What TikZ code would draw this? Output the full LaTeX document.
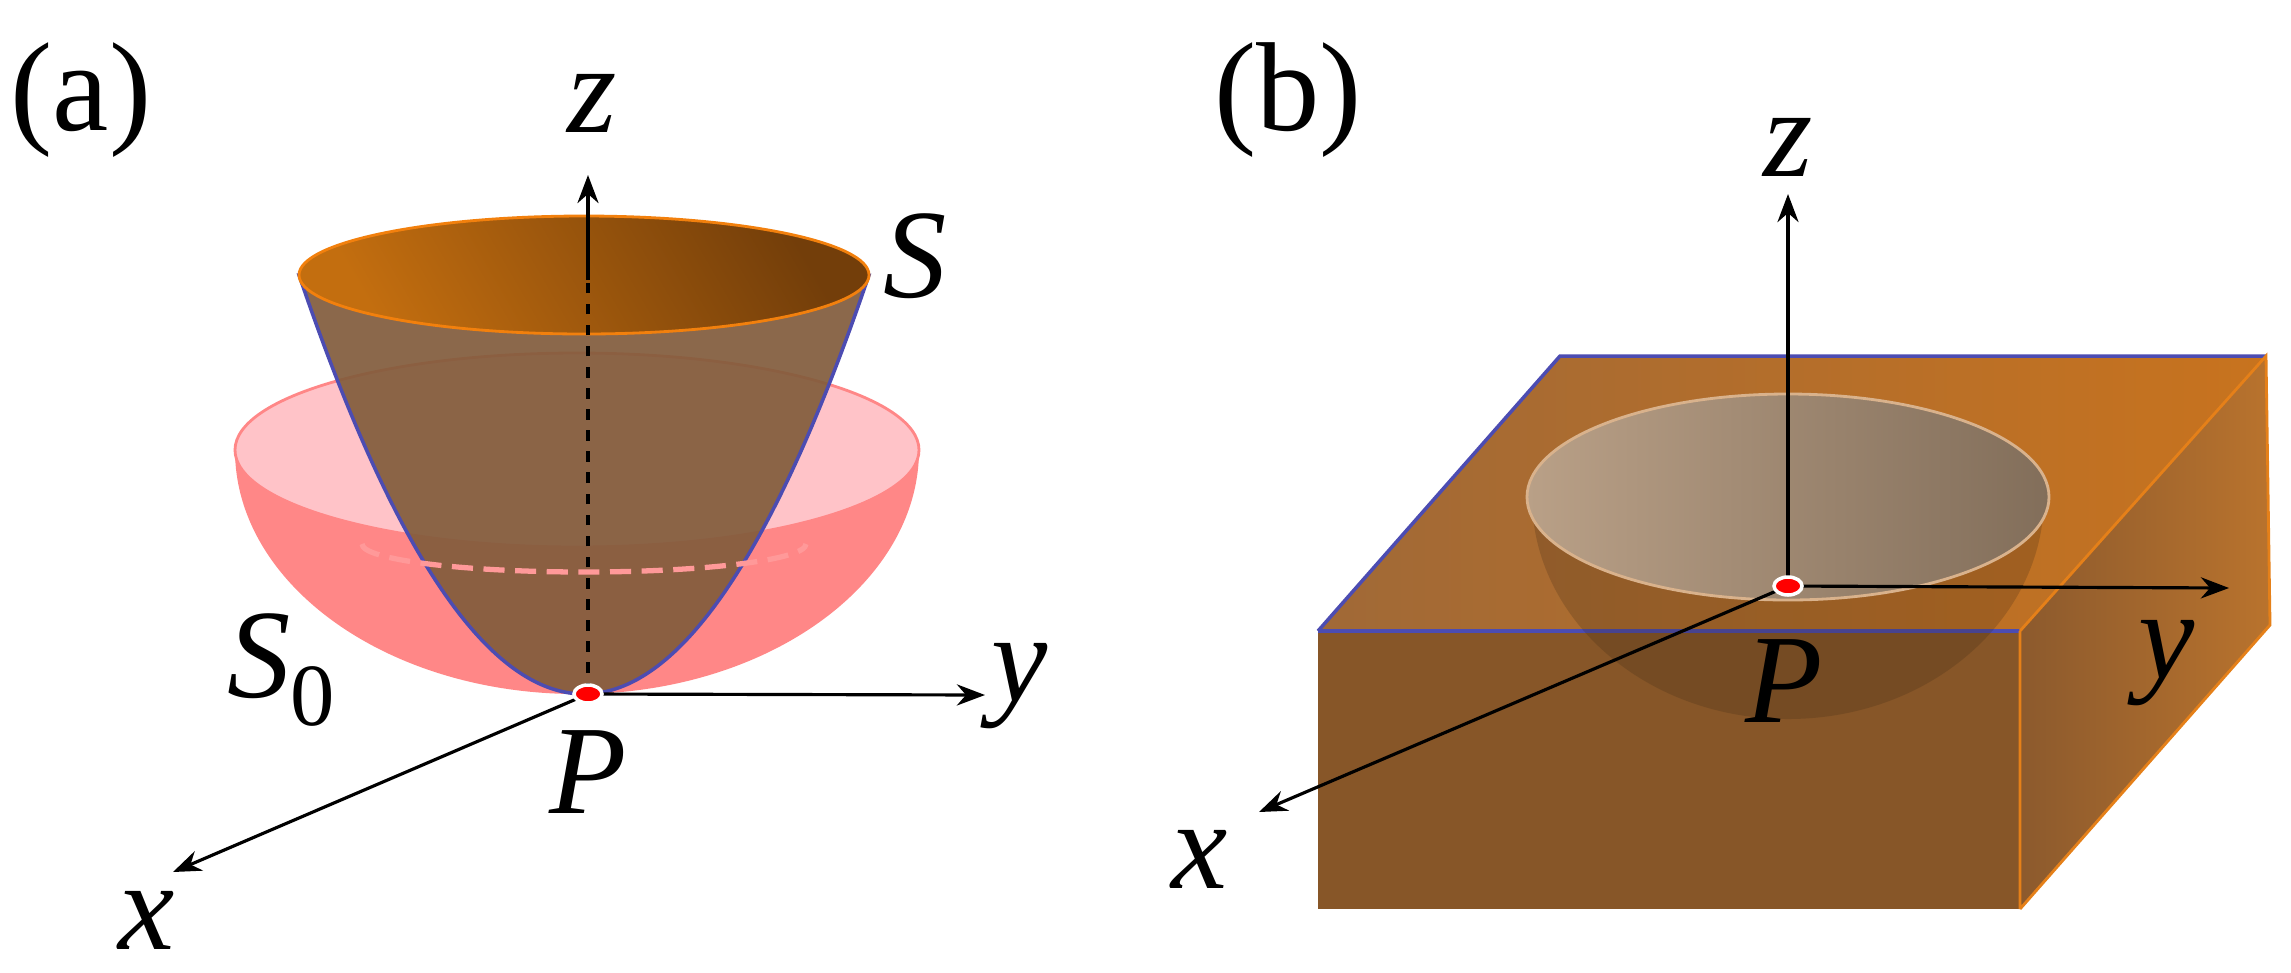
\documentclass[tikz,border=0pt]{standalone}
\usepackage{fontspec}
\setmainfont{Liberation Serif}
\newfontfamily\tms{Liberation Serif}
\usetikzlibrary{arrows.meta}
\definecolor{parab}{RGB}{130,92,60}
\definecolor{pinkS}{RGB}{255,135,135}
\definecolor{pinkT}{RGB}{255,195,200}
\definecolor{topL}{RGB}{115,62,10}
\definecolor{topR}{RGB}{195,110,15}
\definecolor{boxF}{RGB}{135,86,40}
\definecolor{boxTL}{RGB}{160,105,55}
\definecolor{boxTR}{RGB}{200,115,30}
\definecolor{boxRL}{RGB}{140,90,45}
\definecolor{boxRR}{RGB}{185,115,45}
\definecolor{holeL}{RGB}{185,160,135}
\definecolor{holeR}{RGB}{130,110,90}
\tikzset{
  ax/.style={-{Stealth[length=8pt,width=6pt]}, line width=0.9pt, black},
  lbl/.style={font=\tms\fontsize{36}{36}\selectfont\itshape, inner sep=0pt},
  plbl/.style={font=\tms\fontsize{36}{36}\selectfont, inner sep=0pt},
}
\begin{document}
\begin{tikzpicture}[x=0.01cm,y=-0.01cm]
\useasboundingbox[fill=white] (0,0) rectangle (2291,972);
% ---------- panel (a)
\node[plbl] (la) at (81,100) {(a)};
% hemisphere S0
\fill[pinkS] (235,450) arc[start angle=180,end angle=0,x radius=342,y radius=244] -- cycle;
\fill[pinkT] (577,450) ellipse[x radius=342,y radius=97];
\draw[pinkS, line width=0.8pt] (577,450) ellipse[x radius=342,y radius=97];
% paraboloid
\fill[parab, fill opacity=0.92, draw=blue!40!gray, line width=1pt]
  plot[domain=-1:1,samples=60,smooth] ({584+285*\x},{694-419*\x*\x}) -- cycle;
\shade[top color=topL, bottom color=topR, shading angle=-60]
  (584,275) ellipse[x radius=285,y radius=59];
\draw[orange!80!brown, line width=0.8pt] (584,275) ellipse[x radius=285,y radius=59];
% intersection curve
\draw[red!40!white, line width=1.5pt, dash pattern=on 6pt off 3pt]
  (362,544) arc[start angle=180,end angle=0,x radius=222,y radius=28];
\coordinate (Pa) at (588,694);
\coordinate (za) at (588,175);
\coordinate (ya) at (985,695);
\coordinate (xa) at (173,872);
\draw[line width=0.9pt, dashed] (Pa) -- (588,280);
\draw[ax] (588,280) -- (za);
\draw[ax] (Pa) -- (ya);
\draw[ax] (Pa) -- (xa);
\fill[red, draw=white, line width=1pt] (Pa) ellipse[x radius=14,y radius=9];
\node[lbl] (zal) at (592,103) {z};
\node[lbl] (yal) at (1020,686) {y};
\node[lbl] (xal) at (147,920) {x};
\node[lbl] (Pal) at (588,772) {P};
\node[lbl] (Sl) at (915,256) {S};
\node[lbl] (S0l) at (282,670) {S\textsubscript{\upshape 0}};
% ---------- panel (b)
\node[plbl] (lb) at (1288,100) {(b)};
% box
\fill[boxF] (1318,631) rectangle (2020,909);
\shade[left color=boxRL, right color=boxRR]
  (2020,631) -- (2266,356) -- (2270,625) -- (2020,909) -- cycle;
\shade[left color=boxTL, right color=boxTR]
  (1318,631) -- (1560,356) -- (2266,356) -- (2020,631) -- cycle;
\draw[blue!40!gray, line width=1pt] (1318,631) -- (1560,356) -- (2266,356);
\draw[blue!40!gray, line width=1pt] (1318,631) -- (2020,631);
\draw[orange!60!brown, line width=0.8pt] (2020,631) -- (2020,909) (2020,631) -- (2266,356) -- (2270,625) -- (2020,909);
% hole
\fill[black!70!brown, fill opacity=0.22] (1532,497) arc[start angle=180,end angle=0,x radius=256,y radius=222] -- cycle;
\shade[left color=holeL, right color=holeR]
  (1788,497) ellipse[x radius=261,y radius=103];
\draw[brown!60!white, line width=0.8pt] (1788,497) ellipse[x radius=261,y radius=103];
\coordinate (Pb) at (1788,586);
\coordinate (zb) at (1788,194);
\coordinate (yb) at (2229,588);
\coordinate (xb) at (1259,812);
\draw[ax] (Pb) -- (zb);
\draw[ax] (Pb) -- (yb);
\draw[ax] (Pb) -- (xb);
\fill[red, draw=white, line width=1pt] (Pb) ellipse[x radius=14,y radius=9];
\node[lbl] (zbl) at (1788,147) {z};
\node[lbl] (ybl) at (2167,663) {y};
\node[lbl] (xbl) at (1200,859) {x};
\node[lbl] (Pbl) at (1784,681) {P};
\end{tikzpicture}
\end{document}
